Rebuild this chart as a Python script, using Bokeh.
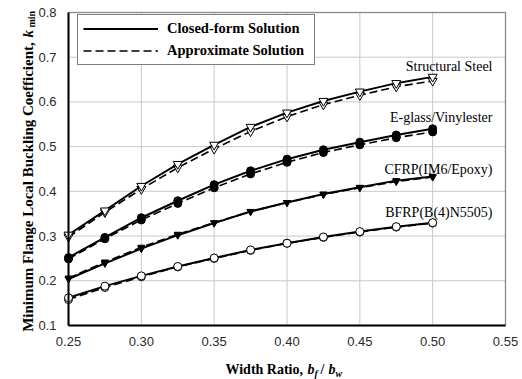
import math
from bokeh.plotting import figure
from bokeh.models import (Legend, LegendItem, Label, FixedTicker, Range1d,
                          ColumnDataSource, BoxAnnotation)
from bokeh.core.properties import value
from bokeh.embed import file_html
from bokeh.resources import INLINE

# ---------------- data ----------------
width_ratio = [0.25, 0.275, 0.30, 0.325, 0.35, 0.375, 0.40, 0.425, 0.45, 0.475, 0.50]

steel_closed = [0.303, 0.357, 0.412, 0.461, 0.504, 0.544, 0.576, 0.602, 0.623, 0.642, 0.656]
steel_approx = [0.298, 0.353, 0.405, 0.453, 0.495, 0.534, 0.567, 0.594, 0.615, 0.634, 0.647]

eglass_closed = [0.252, 0.297, 0.341, 0.379, 0.415, 0.446, 0.472, 0.493, 0.510, 0.526, 0.540]
eglass_approx = [0.249, 0.294, 0.336, 0.373, 0.408, 0.439, 0.465, 0.487, 0.504, 0.520, 0.533]

cfrp_closed = [0.204, 0.239, 0.272, 0.302, 0.329, 0.355, 0.375, 0.394, 0.409, 0.424, 0.433]
cfrp_approx = [0.206, 0.242, 0.275, 0.304, 0.330, 0.355, 0.375, 0.393, 0.408, 0.422, 0.432]

bfrp_closed = [0.162, 0.188, 0.211, 0.232, 0.251, 0.269, 0.284, 0.298, 0.310, 0.321, 0.330]
bfrp_approx = [0.158, 0.185, 0.209, 0.231, 0.250, 0.268, 0.284, 0.297, 0.309, 0.320, 0.329]

material_names = ["Structural Steel", "E-glass/Vinylester", "CFRP(IM6/Epoxy)", "BFRP(B(4)N5505)"]
legend_labels = ["Closed-form Solution", "Approximate Solution"]

x_ticks = [0.25, 0.30, 0.35, 0.40, 0.45, 0.50, 0.55]
y_ticks = [0.1, 0.2, 0.3, 0.4, 0.5, 0.6, 0.7, 0.8]

# ---------------- layout geometry (canvas pixels) ----------------
W, H = 522, 379
XMIN, XMAX, YMIN, YMAX = 0.25, 0.55, 0.1, 0.8
PL, PR, PT, PB = 68, 505, 12, 325          # data-area edges in pixels
kx = (XMAX - XMIN) / (PR - PL)
ky = (YMAX - YMIN) / (PB - PT)
x_start, x_end = XMIN - PL * kx, XMAX + (W - PR) * kx
y_end, y_start = YMAX + PT * ky, YMIN - (H - PB) * ky

def dx(px):
    return XMIN + (px - PL) * kx
def dy(py):
    return YMAX - (py - PT) * ky

p = figure(width=W, height=H, output_backend="svg", toolbar_location=None,
           x_range=Range1d(x_start, x_end), y_range=Range1d(y_start, y_end),
           min_border=0, min_border_left=0, min_border_right=0,
           min_border_top=0, min_border_bottom=0)
p.background_fill_color = "white"
p.border_fill_color = "white"
p.outline_line_color = None
p.xgrid.visible = False
p.ygrid.visible = False

p.xaxis.fixed_location = YMIN
p.yaxis.fixed_location = XMIN
p.xaxis.bounds = (XMIN, XMAX)
p.yaxis.bounds = (YMIN, YMAX)
for ax in (p.xaxis, p.yaxis):
    ax.axis_line_color = "black"
    ax.axis_line_width = 2
    ax.major_tick_line_color = None
    ax.minor_tick_line_color = None
    ax.major_label_text_font = "Liberation Sans"
    ax.major_label_text_font_size = "13px"
    ax.major_label_text_color = "#2a2a2a"
    ax.axis_label = None

p.xaxis.ticker = FixedTicker(ticks=x_ticks)
p.yaxis.ticker = FixedTicker(ticks=y_ticks)
p.xaxis.major_label_overrides = {t: f"{t:.2f}" for t in x_ticks}
p.yaxis.major_label_overrides = {t: f"{t:.1f}" for t in y_ticks}
p.xaxis.major_label_standoff = 5
p.yaxis.major_label_standoff = 6

# grid lines at the tick positions
p.segment(x0=x_ticks, y0=[YMIN] * len(x_ticks), x1=x_ticks, y1=[YMAX] * len(x_ticks),
          line_color="#c8c8c8", line_width=1, level="underlay")
p.segment(x0=[XMIN] * len(y_ticks), y0=y_ticks, x1=[XMAX] * len(y_ticks), y1=y_ticks,
          line_color="#c8c8c8", line_width=1, level="underlay")

# frame border
p.add_layout(BoxAnnotation(left=XMIN, right=XMAX, bottom=YMIN, top=YMAX,
                           fill_alpha=0, line_color="black", line_width=1.5,
                           level="underlay"))

series = [
    (steel_closed, steel_approx, "inverted_triangle", "white", 9),
    (eglass_closed, eglass_approx, "circle", "black", 8),
    (cfrp_closed, cfrp_approx, "inverted_triangle", "black", 7),
    (bfrp_closed, bfrp_approx, "circle", "white", 8),
]

legend_renderers = None
for closed, approx, marker, fill, size in series:
    ra = p.line(width_ratio, approx, line_color="black", line_width=1.6, line_dash="8 4")
    p.scatter(width_ratio, approx, marker=marker, size=size, fill_color=fill,
              line_color="black", line_width=1)
    rc = p.line(width_ratio, closed, line_color="black", line_width=2)
    p.scatter(width_ratio, closed, marker=marker, size=size, fill_color=fill,
              line_color="black", line_width=1)
    if legend_renderers is None:
        legend_renderers = (rc, ra)

legend = Legend(items=[LegendItem(label=legend_labels[0], renderers=[legend_renderers[0]]),
                       LegendItem(label=legend_labels[1], renderers=[legend_renderers[1]])],
                location=(77, H - 65))
legend.label_text_font = "Liberation Serif"
legend.label_text_font_style = "bold"
legend.label_text_font_size = "14.5px"
legend.label_text_color = "black"
legend.glyph_width = 75
legend.glyph_height = 17
legend.label_height = 17
legend.label_width = 142
legend.label_standoff = 9
legend.padding = 5
legend.spacing = 5
legend.border_line_color = "black"
legend.border_line_width = 1
legend.background_fill_color = "white"
legend.background_fill_alpha = 1
legend.margin = 0
p.add_layout(legend, "center")

# ---------------- material labels ----------------
label_px_y = [66, 117, 169, 212]
src = ColumnDataSource(dict(x=[dx(492)] * 4, y=[dy(v) for v in label_px_y],
                            t=material_names))
p.text(x="x", y="y", text="t", source=src, text_align="right",
       text_baseline="middle", text_font=value("Liberation Serif"),
       text_font_size="14px", text_color="black")

# ---------------- axis titles ----------------
def lab(text, px, py, size="14px", style="bold", align="left", angle=0.0):
    p.add_layout(Label(x=dx(px), y=dy(py), text=text,
                       text_font="Liberation Serif", text_font_size=size,
                       text_font_style=style, text_align=align,
                       text_baseline="alphabetic", angle=angle, text_color="black"))

lab("Width Ratio, ", 306, 369, align="right")
lab("b", 307, 369, style="bold italic")
lab("f", 314, 373, size="10px", style="bold italic")
lab("/", 320, 369)
lab("b", 328, 369, style="bold italic")
lab("w", 335, 373, size="10px", style="bold italic")

ang = math.pi / 2
lab("Minimum Flange Local Buckling Coefficient, ", 27, 38, size="15px", align="right", angle=ang)
lab("k", 27, 37, size="15px", style="bold italic", angle=ang)
lab("min", 31, 27, size="10px", style="bold", angle=ang)

open("out.html", "w").write(file_html(p, INLINE))
